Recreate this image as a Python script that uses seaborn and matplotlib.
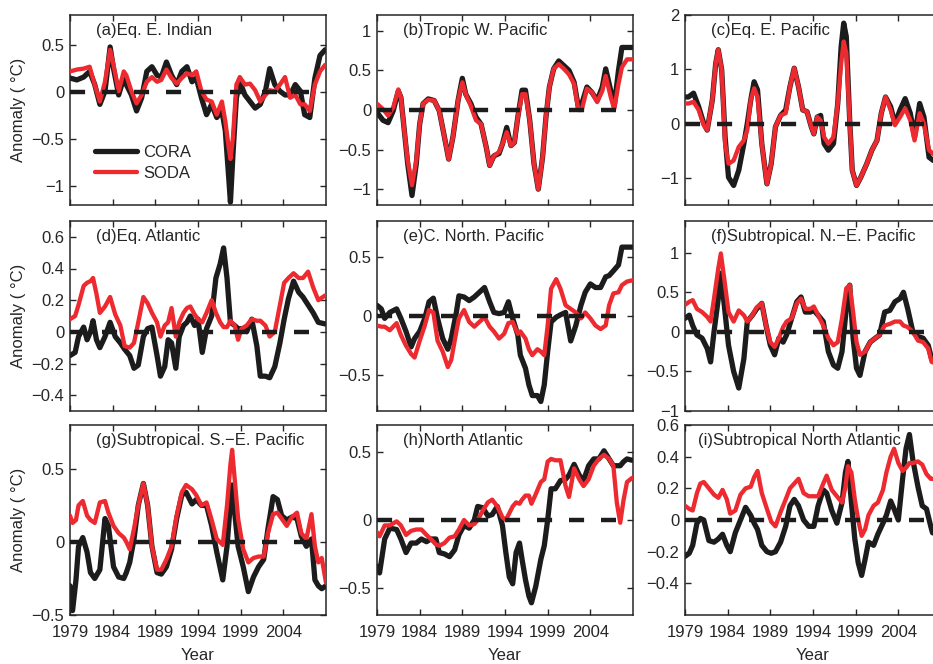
import matplotlib
matplotlib.use("Agg")
import matplotlib.pyplot as plt
import seaborn as sns
from matplotlib.ticker import FuncFormatter

# ---- data ----

yr_a = [1979.0, 1979.8, 1980.6, 1981.3, 1981.9, 1982.5, 1983.1, 1983.7, 1984.1, 1984.7,
        1985.3, 1985.6, 1986.2, 1986.8, 1987.4, 1988.0, 1988.6, 1989.2, 1989.7, 1990.3,
        1990.9, 1991.5, 1992.1, 1992.7, 1993.3, 1993.8, 1994.4, 1995.0, 1995.6, 1996.2,
        1996.8, 1997.2, 1997.6, 1997.8, 1998.1, 1998.5, 1998.9, 1999.5, 2000.1, 2000.7,
        2001.3, 2001.9, 2002.4, 2003.0, 2003.6, 2004.2, 2004.8, 2005.4, 2006.0, 2006.5,
        2007.1, 2007.7, 2008.3, 2008.9]
cora_a = [0.15, 0.13, 0.16, 0.22, 0.08, -0.13, 0.01, 0.48, 0.25, -0.03,
          0.15, 0.08, -0.03, -0.20, -0.06, 0.22, 0.27, 0.18, 0.16, 0.32,
          0.18, 0.08, 0.22, 0.27, 0.11, 0.15, -0.06, -0.24, -0.13, -0.27,
          -0.20, -0.41, -0.91, -1.17, -0.66, -0.06, 0.11, -0.03, -0.10, -0.17,
          -0.13, 0.01, 0.25, 0.08, 0.01, -0.03, -0.03, 0.08, 0.01, -0.24,
          -0.27, 0.15, 0.39, 0.45]
soda_a = [0.22, 0.24, 0.25, 0.27, 0.08, -0.10, 0.11, 0.45, 0.29, 0.01,
          0.22, 0.18, 0.01, -0.12, -0.03, 0.11, 0.16, 0.11, 0.13, 0.24,
          0.15, 0.09, 0.15, 0.20, 0.18, 0.22, 0.01, -0.08, -0.10, -0.24,
          -0.10, -0.31, -0.59, -0.71, -0.48, 0.08, 0.16, 0.08, 0.09, 0.02,
          -0.10, -0.03, 0.02, 0.01, 0.08, 0.16, -0.06, -0.03, -0.13, -0.13,
          -0.20, 0.08, 0.22, 0.29]

yr_b = [1979.0, 1979.7, 1980.3, 1980.9, 1981.5, 1981.8, 1982.2, 1982.6, 1983.1, 1983.6,
        1984.0, 1984.4, 1985.0, 1985.7, 1986.3, 1986.9, 1987.4, 1987.9, 1988.5, 1989.0,
        1989.4, 1990.0, 1990.6, 1991.2, 1991.8, 1992.2, 1992.7, 1993.3, 1993.7, 1994.2,
        1994.7, 1995.1, 1995.5, 1996.0, 1996.4, 1996.9, 1997.4, 1997.9, 1998.4, 1998.8,
        1999.2, 1999.7, 2000.3, 2000.9, 2001.5, 2002.1, 2002.6, 2003.0, 2003.6, 2004.2,
        2004.8, 2005.4, 2005.8, 2006.4, 2006.8, 2007.3, 2007.7, 2008.3, 2008.9]
cora_b = [-0.03, -0.13, -0.16, -0.01, 0.24, 0.16, -0.26, -0.68, -1.08, -0.68,
          -0.18, 0.08, 0.14, 0.12, -0.01, -0.34, -0.62, -0.34, 0.12, 0.40,
          0.20, 0.08, -0.09, -0.18, -0.47, -0.70, -0.58, -0.55, -0.43, -0.22,
          -0.45, -0.41, -0.09, 0.25, 0.25, -0.13, -0.68, -1.0, -0.6, -0.09,
          0.29, 0.52, 0.62, 0.56, 0.50, 0.35, 0.03, 0.08, 0.29, 0.22,
          0.12, 0.29, 0.52, 0.24, 0.05, 0.50, 0.79, 0.79, 0.79]
soda_b = [0.08, 0.01, -0.07, 0.03, 0.26, 0.16, -0.26, -0.64, -0.95, -0.64,
          -0.18, 0.08, 0.13, 0.12, -0.01, -0.34, -0.62, -0.34, 0.12, 0.35,
          0.20, 0.05, -0.13, -0.18, -0.47, -0.70, -0.58, -0.53, -0.43, -0.28,
          -0.45, -0.41, -0.09, 0.20, 0.20, -0.13, -0.68, -1.0, -0.6, -0.09,
          0.29, 0.52, 0.58, 0.52, 0.45, 0.33, 0.0, 0.0, 0.27, 0.22,
          0.10, 0.24, 0.43, 0.16, 0.01, 0.33, 0.54, 0.64, 0.64]

yr_c = [1979.0, 1979.4, 1980.0, 1980.6, 1981.2, 1981.6, 1982.2, 1982.6, 1982.9, 1983.3,
        1983.7, 1984.1, 1984.7, 1985.3, 1985.9, 1986.3, 1986.7, 1987.1, 1987.5, 1988.0,
        1988.6, 1989.1, 1989.6, 1990.2, 1990.8, 1991.3, 1991.8, 1992.3, 1992.8, 1993.3,
        1993.8, 1994.1, 1994.5, 1994.9, 1995.3, 1995.8, 1996.4, 1996.9, 1997.3, 1997.6,
        1997.9, 1998.3, 1998.6, 1999.1, 1999.6, 2000.3, 2000.9, 2001.5, 2002.0, 2002.5,
        2003.1, 2003.6, 2004.2, 2004.8, 2005.4, 2005.9, 2006.5, 2007.0, 2007.6, 2008.1,
        2009.0]
cora_c = [0.49, 0.49, 0.56, 0.31, 0.0, -0.12, 0.43, 1.11, 1.36, 0.99,
          -0.25, -0.99, -1.14, -0.86, -0.37, 0.0, 0.43, 0.77, 0.62, -0.37,
          -1.11, -0.74, -0.06, 0.15, 0.25, 0.68, 1.02, 0.68, 0.25, 0.22,
          -0.06, -0.19, 0.12, 0.15, -0.37, -0.49, -0.37, 0.37, 1.42, 1.85,
          1.60, 0.06, -0.86, -1.14, -0.99, -0.74, -0.49, -0.31, 0.19, 0.49,
          0.31, 0.0, 0.25, 0.46, 0.19, -0.25, 0.37, 0.12, -0.62, -0.68,
          -0.6]
soda_c = [0.37, 0.37, 0.40, 0.25, -0.03, -0.12, 0.43, 1.11, 1.36, 0.99,
          -0.37, -0.74, -0.68, -0.43, -0.31, -0.12, 0.43, 0.65, 0.49, -0.37,
          -1.11, -0.74, -0.06, 0.15, 0.19, 0.68, 1.02, 0.68, 0.25, 0.22,
          -0.06, -0.19, 0.12, 0.06, -0.25, -0.37, -0.25, 0.37, 1.11, 1.51,
          1.30, 0.06, -0.86, -1.14, -0.99, -0.74, -0.49, -0.31, 0.19, 0.49,
          0.25, -0.03, 0.12, 0.28, 0.06, -0.31, 0.19, 0.0, -0.49, -0.56,
          -0.5]

yr_d = [1979.0, 1979.6, 1980.0, 1980.6, 1981.0, 1981.4, 1981.7, 1982.1, 1982.5, 1983.1,
        1983.7, 1984.3, 1984.9, 1985.4, 1986.0, 1986.5, 1987.0, 1987.6, 1988.1, 1988.6,
        1989.2, 1989.6, 1990.1, 1990.5, 1990.9, 1991.4, 1991.8, 1992.3, 1992.7, 1993.1,
        1993.6, 1994.0, 1994.5, 1995.0, 1995.6, 1996.1, 1996.6, 1997.0, 1997.4, 1997.8,
        1998.3, 1998.7, 1999.1, 1999.7, 2000.3, 2000.9, 2001.3, 2001.9, 2002.4, 2003.0,
        2003.6, 2004.1, 2004.6, 2005.2, 2005.8, 2006.3, 2006.9, 2007.5, 2008.1, 2008.9]
cora_d = [-0.15, -0.13, -0.03, 0.03, -0.05, 0.0, 0.07, -0.05, -0.10, -0.03,
          0.06, -0.03, -0.07, -0.11, -0.15, -0.23, -0.21, -0.03, 0.02, 0.03,
          -0.15, -0.28, -0.22, -0.05, -0.07, -0.23, -0.03, 0.04, 0.06, 0.10,
          0.04, 0.08, -0.13, 0.02, 0.10, 0.34, 0.43, 0.53, 0.34, 0.06,
          0.04, 0.02, 0.02, 0.0, 0.08, -0.09, -0.28, -0.28, -0.29, -0.22,
          -0.07, 0.08, 0.21, 0.32, 0.25, 0.22, 0.17, 0.12, 0.06, 0.05]
soda_d = [0.08, 0.10, 0.17, 0.29, 0.31, 0.32, 0.34, 0.24, 0.12, 0.16,
          0.22, 0.11, 0.04, -0.09, -0.10, -0.07, 0.06, 0.22, 0.18, 0.12,
          0.06, -0.03, 0.04, 0.06, 0.15, -0.03, 0.06, 0.12, 0.15, 0.16,
          0.11, 0.08, 0.06, 0.12, 0.20, 0.12, 0.06, 0.03, 0.03, 0.07,
          0.04, -0.05, 0.02, 0.04, 0.08, 0.07, 0.07, 0.04, -0.03, 0.0,
          0.17, 0.31, 0.34, 0.37, 0.34, 0.34, 0.38, 0.28, 0.20, 0.23]

yr_e = [1979.0, 1979.5, 1979.9, 1980.5, 1981.3, 1981.8, 1982.4, 1983.0, 1983.4, 1984.0,
        1984.6, 1985.1, 1985.6, 1986.1, 1986.7, 1987.3, 1987.7, 1988.3, 1988.6, 1989.2,
        1989.8, 1990.4, 1991.0, 1991.6, 1992.2, 1992.7, 1993.3, 1993.9, 1994.4, 1994.9,
        1995.5, 1995.8, 1996.4, 1996.8, 1997.2, 1997.8, 1998.2, 1998.6, 1999.0, 1999.4,
        2000.0, 2000.5, 2001.1, 2001.7, 2002.3, 2002.9, 2003.4, 2004.0, 2004.6, 2005.2,
        2005.8, 2006.2, 2006.7, 2007.3, 2007.7, 2008.3, 2008.9]
cora_e = [0.09, 0.06, -0.02, 0.03, 0.06, -0.02, -0.13, -0.26, -0.19, -0.13,
          -0.02, 0.12, 0.15, -0.02, -0.19, -0.28, -0.19, 0.03, 0.17, 0.16,
          0.13, 0.16, 0.20, 0.24, 0.12, 0.03, 0.02, 0.03, 0.12, -0.02,
          -0.16, -0.33, -0.44, -0.58, -0.67, -0.67, -0.72, -0.58, -0.30, -0.05,
          -0.01, 0.01, 0.03, -0.21, -0.08, 0.09, 0.20, 0.27, 0.24, 0.24,
          0.33, 0.34, 0.38, 0.43, 0.58, 0.58, 0.58]
soda_e = [-0.08, -0.09, -0.09, -0.12, -0.06, -0.16, -0.25, -0.32, -0.35, -0.21,
          -0.08, 0.05, 0.03, -0.21, -0.30, -0.43, -0.37, -0.13, -0.02, 0.05,
          -0.05, -0.09, -0.05, -0.01, -0.09, -0.13, -0.19, -0.15, -0.06, -0.05,
          -0.15, -0.13, -0.19, -0.28, -0.33, -0.28, -0.30, -0.33, -0.08, 0.23,
          0.31, 0.23, 0.09, 0.06, 0.03, -0.02, 0.03, -0.02, -0.08, -0.11,
          -0.08, 0.09, 0.19, 0.20, 0.26, 0.29, 0.30]

yr_f = [1979.0, 1979.5, 1979.9, 1980.4, 1981.0, 1981.6, 1982.0, 1982.4, 1982.9, 1983.2,
        1983.6, 1984.1, 1984.7, 1985.3, 1985.9, 1986.3, 1986.9, 1987.4, 1988.0, 1988.5,
        1989.0, 1989.5, 1990.0, 1990.5, 1990.9, 1991.5, 1992.1, 1992.6, 1993.1, 1993.7,
        1994.1, 1994.6, 1995.2, 1995.8, 1996.4, 1996.9, 1997.4, 1997.9, 1998.3, 1998.7,
        1999.1, 1999.5, 2000.1, 2000.7, 2001.3, 2001.8, 2002.4, 2003.0, 2003.6, 2004.2,
        2004.6, 2005.1, 2005.7, 2006.3, 2006.9, 2007.5, 2007.9, 2009.0]
cora_f = [0.17, 0.21, 0.08, -0.04, -0.08, -0.21, -0.38, 0.0, 0.42, 0.74,
          0.34, -0.17, -0.50, -0.71, -0.34, 0.13, 0.21, 0.29, 0.36, 0.08,
          -0.17, -0.29, -0.08, -0.13, -0.04, 0.17, 0.38, 0.44, 0.25, 0.25,
          0.27, 0.21, 0.13, -0.25, -0.42, -0.46, -0.25, 0.29, 0.59, -0.08,
          -0.46, -0.55, -0.25, -0.13, -0.08, -0.04, 0.25, 0.27, 0.38, 0.42,
          0.50, 0.29, 0.0, -0.06, -0.08, -0.17, -0.34, -0.40]
soda_f = [0.34, 0.38, 0.40, 0.29, 0.25, 0.19, 0.13, 0.42, 0.80, 0.99,
          0.67, 0.25, 0.13, 0.27, 0.21, 0.13, 0.21, 0.31, 0.36, 0.08,
          -0.13, -0.19, -0.08, 0.06, 0.13, 0.17, 0.36, 0.42, 0.29, 0.29,
          0.32, 0.21, 0.08, -0.08, -0.17, -0.13, 0.17, 0.55, 0.59, 0.25,
          -0.13, -0.29, -0.25, -0.13, -0.08, -0.04, 0.08, 0.10, 0.13, 0.13,
          0.08, 0.06, 0.0, -0.11, -0.13, -0.21, -0.38, -0.42]

yr_g = [1979.0, 1979.3, 1979.7, 1980.0, 1980.5, 1981.0, 1981.4, 1981.9, 1982.5, 1983.1,
        1983.5, 1984.1, 1984.7, 1985.3, 1985.6, 1986.0, 1986.5, 1987.0, 1987.6, 1988.1,
        1988.6, 1989.2, 1989.7, 1990.3, 1990.9, 1991.5, 1992.1, 1992.6, 1993.3, 1993.8,
        1994.4, 1995.0, 1995.6, 1996.2, 1996.9, 1997.4, 1997.8, 1998.0, 1998.3, 1998.7,
        1999.3, 1999.9, 2000.5, 2001.1, 2001.7, 2002.2, 2002.8, 2003.3, 2003.8, 2004.4,
        2005.0, 2005.6, 2006.1, 2006.7, 2007.3, 2007.7, 2008.1, 2008.5, 2009.0]
cora_g = [-0.30, -0.47, -0.26, -0.03, 0.03, -0.07, -0.21, -0.25, -0.19, 0.16,
          0.11, -0.17, -0.24, -0.25, -0.21, -0.14, 0.02, 0.25, 0.40, 0.25,
          -0.03, -0.21, -0.22, -0.17, -0.05, 0.16, 0.32, 0.34, 0.26, 0.29,
          0.25, 0.25, 0.11, -0.07, -0.26, -0.03, 0.27, 0.39, 0.20, -0.03,
          -0.17, -0.34, -0.24, -0.17, -0.12, 0.09, 0.31, 0.29, 0.18, 0.15,
          0.17, 0.16, 0.04, -0.03, 0.02, -0.26, -0.30, -0.32, -0.30]
soda_g = [0.18, 0.13, 0.15, 0.25, 0.28, 0.18, 0.15, 0.13, 0.27, 0.28,
          0.20, 0.11, 0.06, 0.03, 0.0, -0.05, 0.09, 0.25, 0.40, 0.25,
          -0.03, -0.19, -0.19, -0.12, -0.03, 0.18, 0.34, 0.39, 0.36, 0.32,
          0.25, 0.27, 0.15, 0.02, -0.02, 0.25, 0.53, 0.63, 0.43, 0.16,
          -0.05, -0.14, -0.11, -0.10, -0.10, 0.06, 0.19, 0.20, 0.16, 0.11,
          0.17, 0.20, 0.06, 0.02, 0.19, -0.03, -0.14, -0.11, -0.28]

yr_h = [1979.0, 1979.3, 1979.9, 1980.5, 1981.3, 1981.8, 1982.4, 1983.0, 1983.6, 1984.2,
        1984.8, 1985.3, 1985.9, 1986.3, 1986.9, 1987.5, 1988.1, 1988.6, 1989.2, 1989.8,
        1990.4, 1990.8, 1991.4, 1992.0, 1992.5, 1993.1, 1993.7, 1994.1, 1994.5, 1994.9,
        1995.3, 1995.7, 1996.0, 1996.4, 1996.8, 1997.1, 1997.6, 1998.2, 1998.6, 1999.0,
        1999.4, 1999.9, 2000.5, 2001.1, 2001.5, 2002.1, 2002.7, 2003.2, 2003.8, 2004.4,
        2005.0, 2005.6, 2006.2, 2006.7, 2007.1, 2007.5, 2007.9, 2008.3, 2008.9]
cora_h = [-0.34, -0.39, -0.14, -0.06, -0.07, -0.14, -0.24, -0.17, -0.17, -0.14,
          -0.16, -0.14, -0.14, -0.24, -0.25, -0.27, -0.22, -0.11, -0.04, -0.06,
          0.0, 0.10, 0.09, 0.03, 0.04, 0.10, -0.04, -0.24, -0.42, -0.47,
          -0.24, -0.17, -0.29, -0.44, -0.56, -0.61, -0.49, -0.29, -0.19, 0.0,
          0.23, 0.23, 0.29, 0.30, 0.33, 0.41, 0.33, 0.29, 0.40, 0.45,
          0.45, 0.51, 0.45, 0.40, 0.40, 0.40, 0.43, 0.45, 0.44]
soda_h = [-0.09, -0.12, -0.04, -0.04, -0.01, -0.04, -0.11, -0.08, -0.07, -0.07,
          -0.11, -0.14, -0.18, -0.19, -0.17, -0.13, -0.12, -0.07, 0.0, -0.04,
          -0.03, 0.0, 0.07, 0.13, 0.15, 0.10, 0.02, 0.0, 0.05, 0.10,
          0.13, 0.12, 0.15, 0.18, 0.18, 0.12, 0.19, 0.28, 0.30, 0.43,
          0.45, 0.44, 0.44, 0.25, 0.17, 0.38, 0.30, 0.25, 0.30, 0.40,
          0.45, 0.48, 0.45, 0.40, 0.13, -0.02, 0.15, 0.28, 0.31]

yr_i = [1979.0, 1979.5, 1979.9, 1980.4, 1980.8, 1981.2, 1981.8, 1982.4, 1982.9, 1983.4,
        1983.9, 1984.3, 1984.9, 1985.5, 1986.1, 1986.7, 1987.1, 1987.5, 1988.0, 1988.6,
        1989.1, 1989.6, 1990.2, 1990.8, 1991.3, 1991.8, 1992.3, 1992.9, 1993.5, 1994.1,
        1994.6, 1995.2, 1995.6, 1996.2, 1996.8, 1997.4, 1997.8, 1998.1, 1998.5, 1998.9,
        1999.3, 1999.7, 2000.1, 2000.5, 2001.1, 2001.6, 2002.2, 2002.6, 2003.1, 2003.5,
        2004.0, 2004.5, 2004.9, 2005.3, 2005.7, 2006.3, 2006.8, 2007.3, 2007.8, 2008.0,
        2009.0]
cora_i = [-0.23, -0.21, -0.16, -0.02, 0.01, 0.0, -0.13, -0.14, -0.12, -0.09,
          -0.16, -0.20, -0.08, 0.0, 0.08, 0.03, -0.02, -0.06, -0.16, -0.20,
          -0.21, -0.20, -0.14, -0.04, 0.09, 0.13, 0.09, 0.0, -0.04, -0.04,
          0.09, 0.19, 0.17, 0.06, -0.02, 0.11, 0.30, 0.37, 0.11, -0.12,
          -0.27, -0.35, -0.25, -0.14, -0.16, -0.09, -0.02, 0.03, 0.12, 0.07,
          0.0, 0.26, 0.45, 0.54, 0.38, 0.21, 0.09, 0.07, -0.04, -0.08,
          -0.10]
soda_i = [0.09, 0.07, 0.06, 0.17, 0.23, 0.24, 0.20, 0.16, 0.14, 0.19,
          0.13, 0.04, 0.06, 0.16, 0.20, 0.21, 0.27, 0.31, 0.17, 0.07,
          -0.01, -0.04, 0.05, 0.13, 0.20, 0.23, 0.26, 0.17, 0.15, 0.15,
          0.15, 0.23, 0.28, 0.19, 0.15, 0.11, 0.21, 0.34, 0.30, 0.13,
          0.0, -0.10, -0.06, 0.03, 0.09, 0.11, 0.19, 0.30, 0.40, 0.45,
          0.36, 0.31, 0.33, 0.36, 0.36, 0.37, 0.35, 0.29, 0.26, 0.26,
          0.26]

titles = ['(a)Eq. E. Indian', '(b)Tropic W. Pacific', '(c)Eq. E. Pacific',
          '(d)Eq. Atlantic', '(e)C. North. Pacific', '(f)Subtropical. N.\u2212E. Pacific',
          '(g)Subtropical. S.\u2212E. Pacific', '(h)North Atlantic', '(i)Subtropical North Atlantic']
years = [yr_a, yr_b, yr_c, yr_d, yr_e, yr_f, yr_g, yr_h, yr_i]
cora = [cora_a, cora_b, cora_c, cora_d, cora_e, cora_f, cora_g, cora_h, cora_i]
soda = [soda_a, soda_b, soda_c, soda_d, soda_e, soda_f, soda_g, soda_h, soda_i]

ylims = [(-1.2, 0.82), (-1.2, 1.2), (-1.5, 2.0),
         (-0.5, 0.7), (-0.8, 0.8), (-1.0, 1.4),
         (-0.5, 0.8), (-0.7, 0.7), (-0.6, 0.6)]
yticks = [[-1, -0.5, 0, 0.5], [-1, -0.5, 0, 0.5, 1], [-1, 0, 1, 2],
          [-0.4, -0.2, 0, 0.2, 0.4, 0.6], [-0.5, 0, 0.5], [-1, -0.5, 0, 0.5, 1],
          [-0.5, 0, 0.5], [-0.5, 0, 0.5], [-0.4, -0.2, 0, 0.2, 0.4, 0.6]]
xticks = [1979, 1984, 1989, 1994, 1999, 2004]

#%% FIGURA
sns.set_style("ticks")
plt.rcParams['font.family'] = ['Liberation Sans', 'DejaVu Sans']
fs = 12

W, H = 933, 664
fig = plt.figure(figsize=(W / 100, H / 100), dpi=100)

col_left = [70, 377, 685]
row_top = [15, 221, 425]
aw, ah = 256, 190

fmt = FuncFormatter(lambda v, p: ('%g' % v).replace('-', '\u2212'))
c_black = '#1c1c1c'
c_red = '#ec2a2f'

for k in range(9):
    r, c = divmod(k, 3)
    ax = fig.add_axes([col_left[c] / W, 1 - (row_top[r] + ah) / H, aw / W, ah / H])

    sns.lineplot(x=years[k], y=cora[k], ax=ax, color=c_black, lw=3.8,
                 solid_joinstyle='round', solid_capstyle='round',
                 label='CORA' if k == 0 else None, zorder=2)
    sns.lineplot(x=years[k], y=soda[k], ax=ax, color=c_red, lw=3.1,
                 solid_joinstyle='round', solid_capstyle='round',
                 label='SODA' if k == 0 else None, zorder=3)
    ax.plot([1979, 2007], [0, 0], color=c_black, lw=3.2, dashes=(3.4, 3.8),
            dash_capstyle='butt', zorder=4)

    ax.set_xlim(1979, 2009)
    ax.set_ylim(*ylims[k])
    ax.set_xticks(xticks)
    ax.set_yticks(yticks[k])
    ax.yaxis.set_major_formatter(fmt)
    ax.tick_params(direction='in', top=True, right=True, length=4, width=1,
                   labelsize=fs)
    ax.tick_params(axis='x', pad=7)
    ax.tick_params(axis='y', pad=4)
    for s in ax.spines.values():
        s.set_linewidth(1.1)

    tx = 0.05 if k == 8 else 0.10
    ax.text(tx, 0.92, titles[k], transform=ax.transAxes, ha='left', va='center',
            fontsize=fs)

    if r == 2:
        ax.set_xlabel('Year', fontsize=fs, labelpad=6)
    else:
        ax.set_xticklabels([])
        ax.set_xlabel('')
    if c == 0:
        ax.set_ylabel('Anomaly ( \u00b0C)', fontsize=fs)
    else:
        ax.set_ylabel('')

    if k == 0:
        ax.legend(loc='lower left', bbox_to_anchor=(0.04, 0.05), frameon=False,
                  handlelength=2.5, handletextpad=0.4, labelspacing=0.35,
                  fontsize=fs)
    else:
        leg = ax.get_legend()
        if leg is not None:
            leg.remove()

fig.savefig('out.png', dpi=100)
